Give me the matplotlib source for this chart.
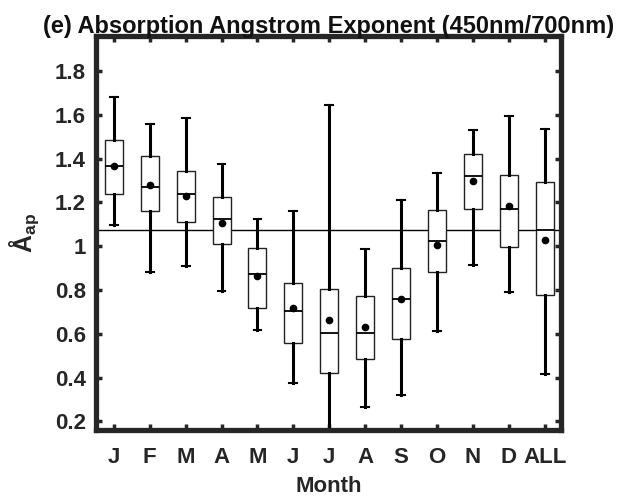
import numpy as np
import matplotlib
matplotlib.use('Agg')
import matplotlib.pyplot as plt

plt.rcParams['font.family'] = ['Liberation Sans', 'DejaVu Sans']
plt.rcParams['font.weight'] = 'bold'
plt.rcParams['mathtext.fontset'] = 'custom'
plt.rcParams['mathtext.bf'] = 'Liberation Sans:bold'
plt.rcParams['mathtext.rm'] = 'Liberation Sans'

# box statistics
months = ['J', 'F', 'M', 'A', 'M', 'J', 'J', 'A', 'S', 'O', 'N', 'D', 'ALL']
whis_hi = [1.683, 1.557, 1.586, 1.373, 1.126, 1.159, 1.646, 0.987, 1.213, 1.333, 1.532, 1.594, 1.535]
q3 = [1.483, 1.411, 1.342, 1.226, 0.991, 0.834, 0.805, 0.773, 0.902, 1.163, 1.422, 1.327, 1.294]
median = [1.368, 1.272, 1.240, 1.124, 0.872, 0.706, 0.602, 0.605, 0.758, 1.024, 1.319, 1.170, 1.074]
mean = [1.368, 1.278, 1.228, 1.107, 0.866, 0.718, 0.663, 0.633, 0.758, 1.004, 1.297, 1.182, 1.028]
q1 = [1.240, 1.159, 1.110, 1.011, 0.718, 0.560, 0.422, 0.485, 0.575, 0.882, 1.170, 0.995, 0.776]
whis_lo = [1.095, 0.882, 0.909, 0.795, 0.618, 0.374, 0.10, 0.267, 0.322, 0.612, 0.915, 0.790, 0.416]
ref_line = 1.074

stats = []
for i in range(len(months)):
    stats.append({'whislo': whis_lo[i], 'q1': q1[i], 'med': median[i], 'q3': q3[i],
                  'whishi': whis_hi[i], 'mean': mean[i], 'fliers': []})

fig = plt.figure(figsize=(6.22, 4.99), dpi=100)
ax = fig.add_axes([0.154, 0.138, 0.748, 0.790])

ax.axhline(ref_line, color='black', linewidth=1.0, zorder=1)

pos = np.arange(1, len(months) + 1)
ax.bxp(stats, positions=pos, widths=0.5, capwidths=0.22, showmeans=True, patch_artist=True,
       boxprops=dict(facecolor='white', edgecolor='#222222', linewidth=1.0),
       whiskerprops=dict(color='black', linewidth=2.2),
       capprops=dict(color='black', linewidth=1.5),
       medianprops=dict(color='black', linewidth=1.3),
       meanprops=dict(marker='o', markerfacecolor='black', markeredgecolor='black', markersize=4.5),
       zorder=2)

ax.set_xlim(0.5, 13.45)
ax.set_ylim(0.16, 1.96)
ax.set_xticks(pos)
ax.set_xticklabels(months)
yt = [0.2, 0.4, 0.6, 0.8, 1.0, 1.2, 1.4, 1.6, 1.8]
ax.set_yticks(yt)
ax.set_yticklabels(['0.2', '0.4', '0.6', '0.8', '1', '1.2', '1.4', '1.6', '1.8'])

for sp in ax.spines.values():
    sp.set_linewidth(3.8)
    sp.set_color('#262626')
ax.tick_params(direction='in', length=4, width=2.5, color='#262626', top=True, right=True,
               labelsize=16, labelcolor='#262626')
ax.tick_params(axis='y', pad=7)
ax.tick_params(axis='x', pad=12)

ax.set_xlabel('Month', fontsize=16, fontweight='bold', color='#262626', labelpad=6)
ax.set_ylabel(r'$\mathbf{\AA}_{\mathbf{ap}}$', fontsize=18, color='#262626', labelpad=10)
ax.set_title('(e) Absorption Angstrom Exponent (450nm/700nm)', fontsize=17, fontweight='bold',
             color='#111111', pad=2)

fig.savefig('out.png', dpi=100)
